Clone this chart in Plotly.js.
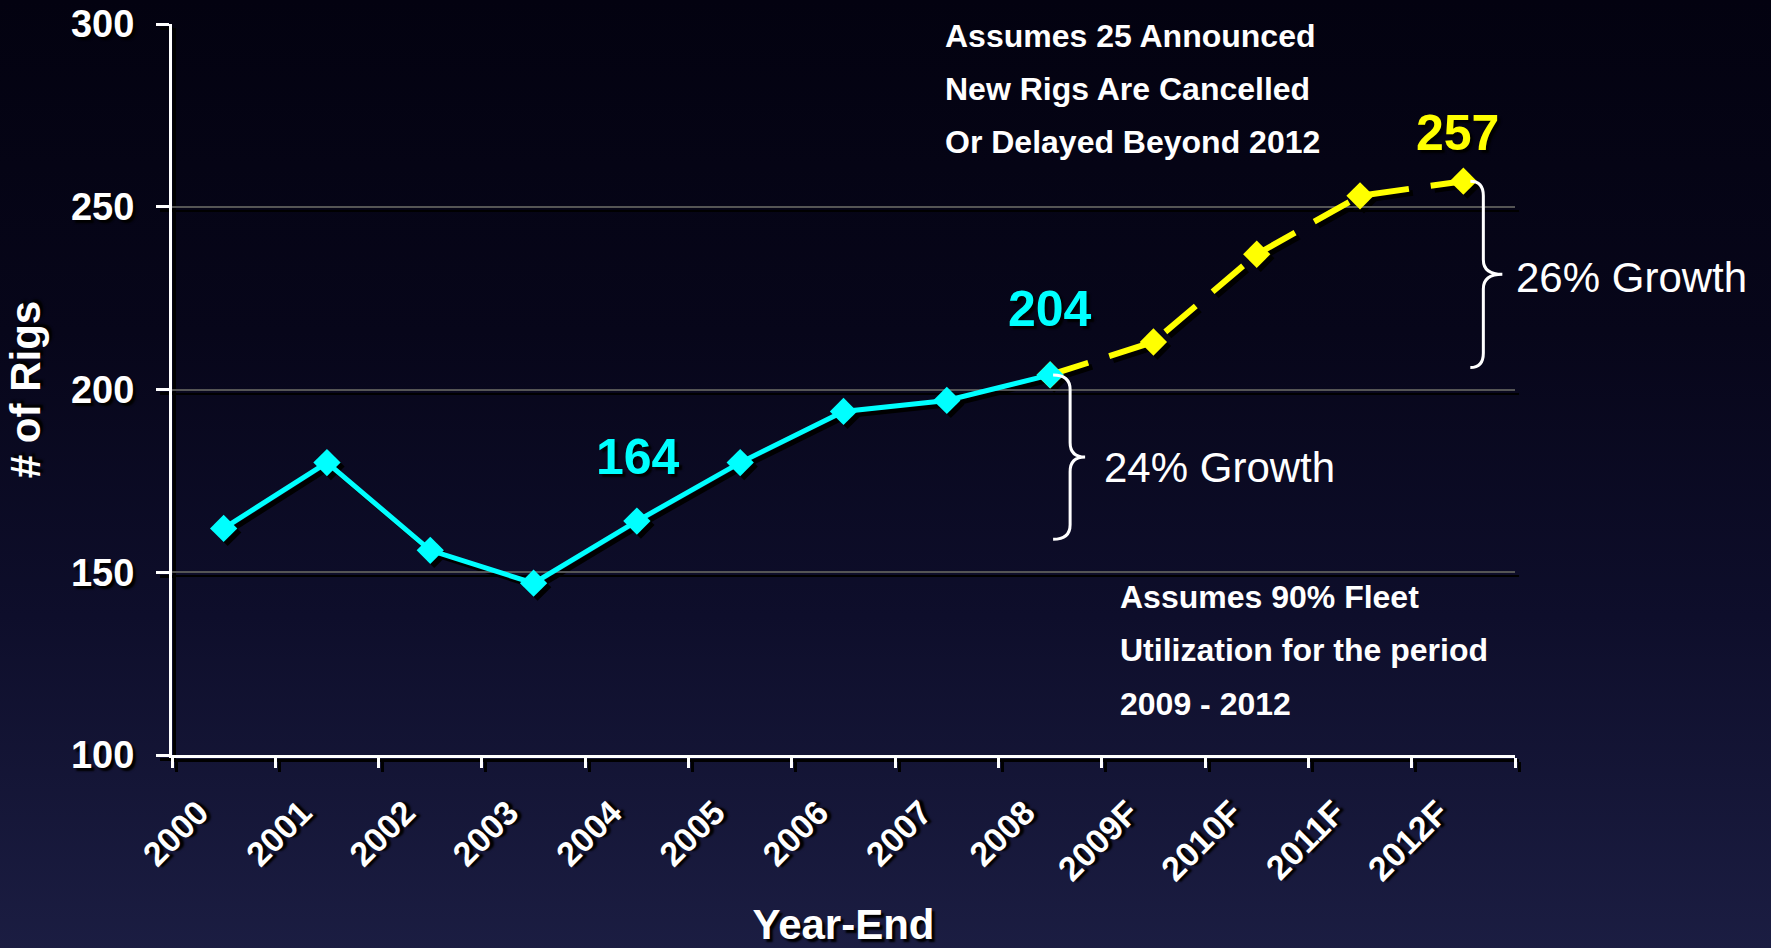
<!DOCTYPE html>
<html>
<head>
<meta charset="utf-8">
<script src="https://cdn.plot.ly/plotly-3.0.1.min.js"></script>
<style>
  html, body { margin: 0; padding: 0; width: 1771px; height: 948px; overflow: hidden; }
  body { background: linear-gradient(to bottom, #030210 0%, #07061a 35%, #0e0e2b 65%, #1b1d42 100%); }
  #chart { width: 1771px; height: 948px; }
</style>
</head>
<body>
<div id="chart"></div>
<script>
// ---- data ----
const categories = ["2000","2001","2002","2003","2004","2005","2006","2007","2008","2009F","2010F","2011F","2012F"];
const rigs = [162, 180, 156, 147, 164, 180, 194, 197, 204, 213, 237, 253, 257];
const actualCount = 9;            // 2000..2008 are actual, 2008..2012F forecast line
const yTicks = [100, 150, 200, 250, 300];
const noteTop = ["Assumes 25 Announced", "New Rigs Are Cancelled", "Or Delayed Beyond 2012"];
const noteBottom = ["Assumes 90% Fleet", "Utilization for the period", "2009 - 2012"];
const growthLabels = ["24% Growth", "26% Growth"];
const callouts = [{i: 4, color: "#00ffff"}, {i: 8, color: "#00ffff"}, {i: 12, color: "#ffff00"}];

// ---- layout geometry ----
const L = 172, T = 24, W = 1347, H = 735, SH = 4;
const pxX = x => (x - L) / W;
const pxY = y => 1 - (y - T) / H;
const catW = (W - SH) / categories.length;
const cx = i => L + (i + 0.5) * catW;

const FONT = "Liberation Sans, Arial, Helvetica, sans-serif";
const TS = "3px 3px 2px #000";

const actX = categories.slice(0, actualCount), actY = rigs.slice(0, actualCount);
const fcX = categories.slice(actualCount - 1), fcY = rigs.slice(actualCount - 1);

function mk(x, y, color, dash, width, xa, ya, markerSize) {
  return {
    x: x, y: y, xaxis: xa, yaxis: ya, type: "scatter", mode: "lines+markers",
    line: {color: color, width: width, dash: dash},
    marker: {symbol: "diamond", size: markerSize, color: color, line: {width: 0}},
    hoverinfo: "skip", showlegend: false, cliponaxis: false
  };
}

const traces = [
  // shadows
  mk(fcX, fcY, "#000000", "40px,22px", 6, "x", "y", 21),
  mk(actX, actY, "#000000", "solid", 5, "x", "y", 21),
  // visible
  mk(fcX, fcY, "#ffff00", "40px,22px", 6, "x2", "y2", 21),
  mk(actX, actY, "#00ffff", "solid", 5, "x2", "y2", 21)
];

// braces
function brace(xl, xs, xt, yTop, yBot, r) {
  const yMid = (yTop + yBot) / 2;
  const X = v => pxX(v).toFixed(5);
  return `M${X(xl)},${yTop} Q${X(xs)},${yTop} ${X(xs)},${yTop - r} L${X(xs)},${yMid + r} ` +
         `Q${X(xs)},${yMid} ${X(xt)},${yMid} Q${X(xs)},${yMid} ${X(xs)},${yMid - r} ` +
         `L${X(xs)},${yBot + r} Q${X(xs)},${yBot} ${X(xl)},${yBot}`;
}
const shapes = [
  {type: "path", xref: "paper", yref: "y2", path: brace(cx(8) + 3, cx(8) + 20, cx(8) + 35, rigs[8], 159, 4),
   line: {color: "#ffffff", width: 3}},
  {type: "path", xref: "paper", yref: "y2", path: brace(cx(12) + 7, cx(12) + 20, cx(12) + 39, rigs[12], 206, 4),
   line: {color: "#ffffff", width: 3}}
];

const annotations = [];
callouts.forEach((c, k) => {
  const yshift = [64, 66, 48][k];
  const xshift = [1, 0, -6][k];
  annotations.push({x: c.i, y: rigs[c.i], xref: "x2", yref: "y2", text: String(rigs[c.i]),
    showarrow: false, yshift: yshift, xshift: xshift,
    font: {family: FONT, size: 50, weight: 700, color: c.color, shadow: TS}});
});
const topY = [35.5, 88.8, 142];
noteTop.forEach((t, k) => annotations.push({x: pxX(943), y: pxY(topY[k]), xref: "paper", yref: "paper",
  xanchor: "left", yanchor: "middle", text: t, showarrow: false,
  font: {family: FONT, size: 32, weight: 700, color: "#ffffff"}}));
const botY = [597, 650, 704];
noteBottom.forEach((t, k) => annotations.push({x: pxX(1118), y: pxY(botY[k]), xref: "paper", yref: "paper",
  xanchor: "left", yanchor: "middle", text: t, showarrow: false,
  font: {family: FONT, size: 32, weight: 700, color: "#ffffff"}}));
annotations.push({x: pxX(1102), y: pxY(467), xref: "paper", yref: "paper", xanchor: "left", yanchor: "middle",
  text: growthLabels[0], showarrow: false, font: {family: FONT, size: 42, color: "#ffffff"}});
annotations.push({x: pxX(1514), y: pxY(277), xref: "paper", yref: "paper", xanchor: "left", yanchor: "middle",
  text: growthLabels[1], showarrow: false, font: {family: FONT, size: 42, color: "#ffffff"}});

const xRange = [-0.5, categories.length - 0.5];
const yRange = [yTicks[0], yTicks[yTicks.length - 1]];

const layout = {
  width: 1771, height: 948,
  margin: {l: L, r: 1771 - L - W, t: T, b: 948 - T - H, pad: 0},
  paper_bgcolor: "rgba(0,0,0,0)", plot_bgcolor: "rgba(0,0,0,0)",
  showlegend: false,
  font: {family: FONT, color: "#ffffff"},
  // shadow axes
  xaxis: {domain: [SH / W, 1], anchor: "y", type: "category", categoryarray: categories, range: xRange,
    showline: true, linecolor: "#000000", linewidth: 3, ticks: "outside", tickson: "boundaries",
    ticklen: 10, tickwidth: 3, tickcolor: "#000000", showticklabels: false, showgrid: false, zeroline: false, fixedrange: true},
  yaxis: {domain: [0, 1 - SH / H], anchor: "x", range: yRange, tickvals: yTicks,
    showline: true, linecolor: "#000000", linewidth: 3, ticks: "outside", ticklen: 13, tickwidth: 3, tickcolor: "#000000",
    showticklabels: false, showgrid: true, gridcolor: "#000000", gridwidth: 2, zeroline: false, fixedrange: true},
  // visible axes
  xaxis2: {domain: [0, 1 - SH / W], anchor: "y2", type: "category", categoryarray: categories, range: xRange,
    showline: true, linecolor: "#ffffff", linewidth: 3, ticks: "outside", tickson: "boundaries",
    ticklen: 10, tickwidth: 3, tickcolor: "#ffffff", showgrid: false, zeroline: false, fixedrange: true,
    tickangle: -45, ticklabelstandoff: 21, ticklabelshift: -25,
    tickfont: {family: FONT, size: 34, weight: 700, color: "#ffffff", shadow: TS},
    title: {text: "Year-End", standoff: 36, font: {family: FONT, size: 42, weight: 700, color: "#ffffff", shadow: TS}}},
  yaxis2: {domain: [SH / H, 1], anchor: "x2", range: yRange, tickvals: yTicks, ticktext: yTicks.map(String),
    showline: true, linecolor: "#ffffff", linewidth: 3, ticks: "outside", ticklen: 13, tickwidth: 3, tickcolor: "#ffffff",
    showgrid: true, gridcolor: "#555555", gridwidth: 2, zeroline: false, fixedrange: true,
    ticklabelstandoff: 14,
    tickfont: {family: FONT, size: 38, weight: 700, color: "#ffffff", shadow: TS},
    title: {text: "# of Rigs", standoff: 18, font: {family: FONT, size: 42, weight: 700, color: "#ffffff", shadow: TS}}},
  shapes: shapes,
  annotations: annotations
};

Plotly.newPlot("chart", traces, layout, {staticPlot: true, displayModeBar: false});
</script>
</body>
</html>
